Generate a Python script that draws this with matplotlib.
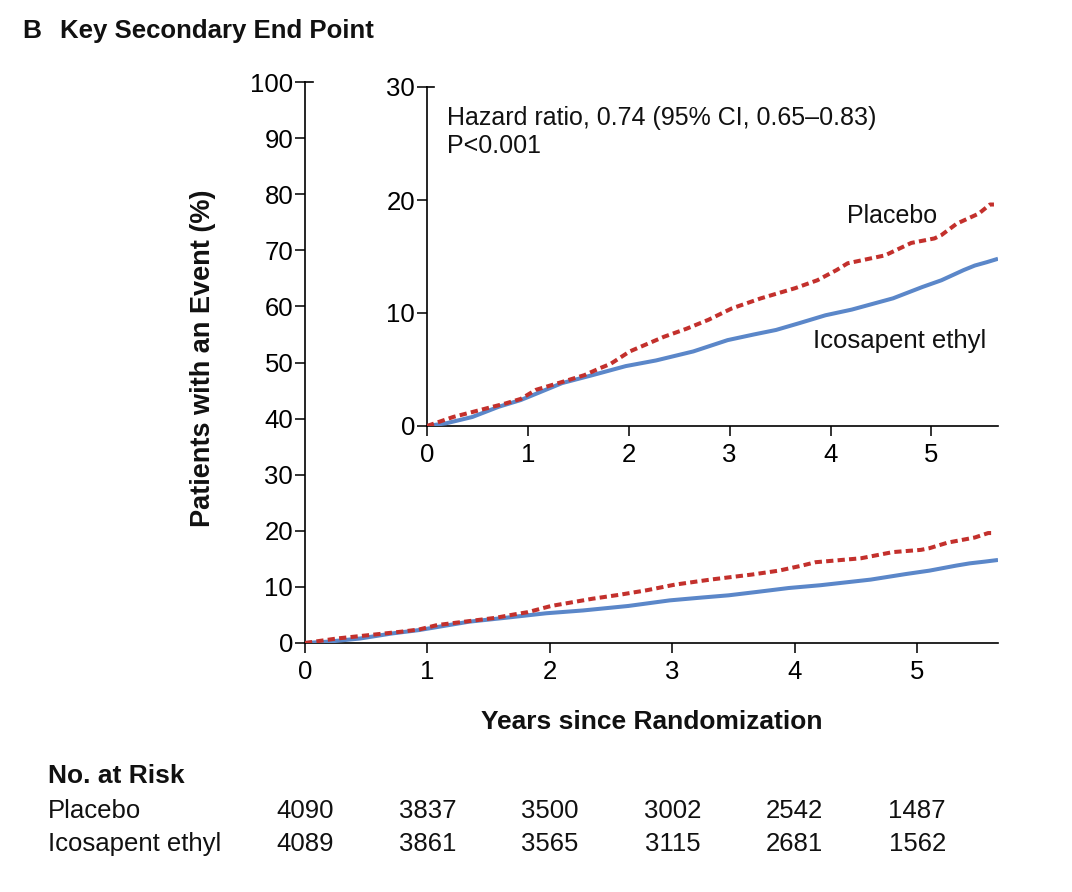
import matplotlib
matplotlib.use("Agg")
from matplotlib import pyplot as plt
from matplotlib import font_manager
from matplotlib.transforms import blended_transform_factory

# curve values (percent of patients with an event)
placebo_years = [0, 0.26, 0.52, 0.78, 0.93, 1.08, 1.34, 1.56, 1.71, 1.82, 2.01, 2.35, 2.57,
                 2.79, 3.02, 3.31, 3.65, 3.87, 4.06, 4.17, 4.54, 4.80, 5.03, 5.10, 5.25,
                 5.47, 5.58, 5.62]
placebo_pct = [0, 0.8, 1.4, 2.0, 2.4, 3.2, 3.9, 4.5, 5.1, 5.5, 6.6, 7.9, 8.6,
               9.4, 10.4, 11.3, 12.2, 12.9, 13.8, 14.4, 15.1, 16.2, 16.6, 16.9, 17.9,
               18.8, 19.6, 19.6]

ice_years = [0, 0.19, 0.45, 0.71, 0.93, 1.04, 1.34, 1.64, 1.97, 2.27, 2.64, 2.98, 3.24,
             3.46, 3.69, 3.95, 4.21, 4.62, 4.91, 5.10, 5.32, 5.43, 5.55, 5.66]
ice_pct = [0, 0.24, 0.8, 1.7, 2.3, 2.7, 3.8, 4.5, 5.3, 5.8, 6.6, 7.6, 8.1,
           8.5, 9.1, 9.8, 10.3, 11.3, 12.3, 12.9, 13.8, 14.2, 14.5, 14.8]

risk_years = [0, 1, 2, 3, 4, 5]
risk_placebo = [4090, 3837, 3500, 3002, 2542, 1487]
risk_ice = [4089, 3861, 3565, 3115, 2681, 1562]

main_yticks = list(range(0, 101, 10))
inset_yticks = [0, 10, 20, 30]
xticks = [0, 1, 2, 3, 4, 5]

red = "#c3302c"
blue = "#5b87c9"

available = {f.name for f in font_manager.fontManager.ttflist}
base_font = "Liberation Sans" if "Liberation Sans" in available else "DejaVu Sans"
plt.rcParams["font.family"] = [base_font, "DejaVu Sans"]

W, H = 1072, 892
fig = plt.figure(figsize=(W / 100, H / 100), dpi=100)


def fx(px):
    return px / W


def fy(py):
    return 1 - py / H


def style_axes(ax, ylim, yticks):
    ax.set_xlim(0, 5.66)
    ax.set_ylim(*ylim)
    ax.set_xticks(xticks)
    ax.set_yticks(yticks)
    for side in ["top", "right"]:
        ax.spines[side].set_visible(False)
    for side in ["left", "bottom"]:
        ax.spines[side].set_linewidth(1.2)
    ax.tick_params(axis="both", direction="out", length=7, width=1.2, labelsize=18.5, color="#111111")
    ax.tick_params(axis="y", pad=1.5)
    ax.tick_params(axis="x", pad=5)
    # little stub at the top of the y axis
    ax.axhline(ylim[1], xmin=0, xmax=0.012, color="k", lw=1.2, clip_on=False)


def draw_curves(ax):
    ax.plot(ice_years, ice_pct, color=blue, lw=2.9, solid_capstyle="butt", zorder=3)
    ax.plot(placebo_years, placebo_pct, color=red, lw=2.9, linestyle=(0, (1.8, 1.05)),
            dash_capstyle="butt", zorder=4)


ax = fig.add_axes([fx(305), fy(643), fx(998) - fx(305), fy(82) - fy(643)])
style_axes(ax, (0, 100), main_yticks)
draw_curves(ax)

inset = fig.add_axes([fx(427), fy(426), fx(998) - fx(427), fy(87) - fy(426)])
inset.set_facecolor("white")
style_axes(inset, (0, 30), inset_yticks)
draw_curves(inset)

inset.text(0.035, 0.945, "Hazard ratio, 0.74 (95% CI, 0.65\u20130.83)\nP<0.001", transform=inset.transAxes,
           fontsize=18, va="top", ha="left", linespacing=1.25, color="#111111")
inset.text(4.16, 18.6, "Placebo", fontsize=18, color="#111111", ha="left", va="center")
inset.text(3.83, 7.5, "Icosapent ethyl", fontsize=18.5, color="#111111", ha="left", va="center")

fig.text(fx(22), fy(31), "B", fontsize=19, fontweight="bold", va="center", ha="left", color="#111111")
fig.text(fx(60), fy(31), "Key Secondary End Point", fontsize=18.5, fontweight="bold",
         va="center", ha="left", color="#111111")

fig.text(fx(203), fy(358), "Patients with an Event (%)", rotation=90, fontsize=19.5,
         fontweight="bold", va="center", ha="center", color="#111111")
fig.text(fx(652), fy(722), "Years since Randomization", fontsize=19,
         fontweight="bold", va="center", ha="center", color="#111111")

fig.text(fx(48), fy(776), "No. at Risk", fontsize=19, fontweight="bold", va="center", ha="left",
         color="#111111")
fig.text(fx(48), fy(811), "Placebo", fontsize=18.5, va="center", ha="left", color="#111111")
fig.text(fx(48), fy(844), "Icosapent ethyl", fontsize=18.5, va="center", ha="left", color="#111111")

trans = blended_transform_factory(ax.transData, fig.transFigure)
for yr, n_pl, n_ice in zip(risk_years, risk_placebo, risk_ice):
    ax.text(yr, fy(811), str(n_pl), transform=trans, fontsize=18.5, ha="center", va="center",
            clip_on=False, color="#111111")
    ax.text(yr, fy(844), str(n_ice), transform=trans, fontsize=18.5, ha="center", va="center",
            clip_on=False, color="#111111")

fig.savefig("out.png", dpi=100, facecolor="white")
